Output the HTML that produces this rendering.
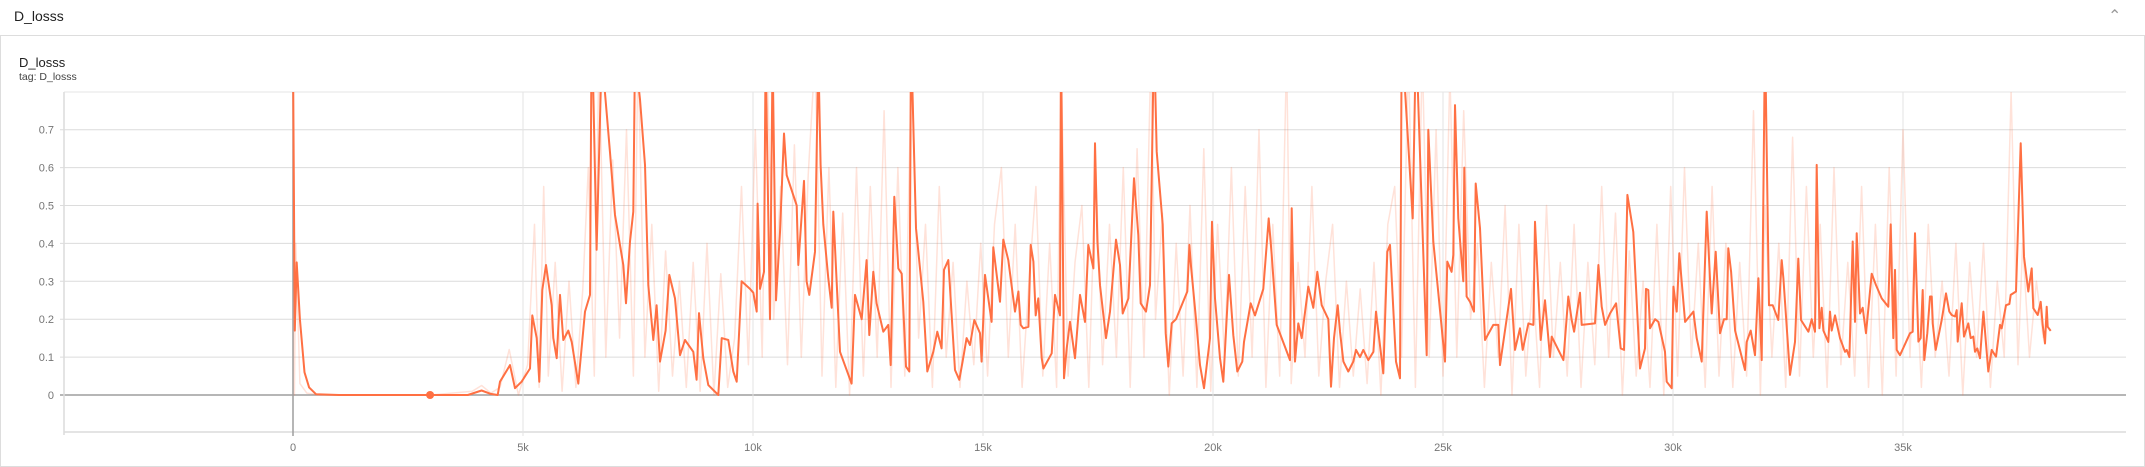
<!DOCTYPE html>
<html><head><meta charset="utf-8"><style>
html,body{margin:0;padding:0;background:#fff;width:2145px;height:454px;overflow:hidden;font-family:"Liberation Sans",sans-serif}
#hdr{position:absolute;left:0;top:0;width:2145px;height:35px;border-bottom:1px solid #ddd}
#hdr .t{position:absolute;left:14px;top:8px;font-size:14px;color:#212121}
#hdr .chev{position:absolute;left:2108px;top:6px;font-size:16px;color:#999}
#card{position:absolute;left:0;top:36px;width:2143px;height:430px;border:1px solid #ddd;border-top:none}
#ct{position:absolute;left:19px;top:55px;font-size:13px;color:#212121}
#tag{position:absolute;left:19px;top:71px;font-size:10.5px;color:#424242}
svg{position:absolute;left:0;top:0}
</style></head><body>
<div id="hdr"><span class="t">D_losss</span><span class="chev">&#8963;</span></div>
<div id="card"></div>
<div id="ct">D_losss</div>
<div id="tag">tag: D_losss</div>
<svg id="chart" width="2145" height="454"></svg>
<script>
const xTicks=[0,5000,10000,15000,20000,25000,30000,35000];
const xTickLabels=["0","5k","10k","15k","20k","25k","30k","35k"];
const yTicks=[0,0.1,0.2,0.3,0.4,0.5,0.6,0.7];
const yTickLabels=["0","0.1","0.2","0.3","0.4","0.5","0.6","0.7"];
const smoothSteps=[0,40,80,150,250,350,500,1000,2000,3000,3800,4000,4100,4300,4450,
4500,4717,4826,4970,5152,5203,5297,5355,5420,5500,5623,5659,5732,5804,5877,5985,6058,6203,6348,6456,6493,6600,6710,6891,7000,7181,7239,7326,7398,7435,7543,7652,7724,7833,7905,7978,8101,8181,8304,8413,8522,8703,8775,8826,8920,9029,9246,9319,9464,9572,9645,9753,9934,10007,10080,10100,10152,10239,10275,10369,10427,10500,10587,10674,10732,10949,10985,11108,11166,11224,11348,11420,11470,11529,11637,11710,11746,11891,12144,12217,12362,12470,12528,12615,12688,12833,12941,12993,13072,13159,13232,13326,13398,13434,13543,13702,13789,13920,14007,14101,14152,14246,14391,14485,14557,14644,14717,14811,14934,14970,15043,15188,15224,15369,
15442,15551,15696,15769,15819,15877,15986,16037,16095,16145,16203,16276,16312,16493,16566,16674,16696,16761,16819,16892,17000,17109,17218,17290,17399,17435,17486,17544,17674,17761,17892,17979,18037,18160,18283,18377,18428,18544,18631,18718,18776,18906,18971,19029,19102,19196,19319,19442,19486,19522,19631,19718,19804,19935,19979,20044,20152,20225,20348,20442,20529,20638,20674,20819,20913,21094,21210,21275,21384,21674,21710,21783,21855,21928,22072,22181,22268,22362,22507,22565,22631,22710,22761,22834,22942,23050,23109,23196,23268,23377,23486,23544,23703,23790,23848,23979,24066,24102,24341,24413,24645,24681,24790,25043,25094,25188,25225,25261,25333,25442,25464,25514,25587,25674,25710,25804,25913,26094,26203,
26240,26479,26566,26675,26733,26856,26965,27000,27051,27124,27218,27327,27363,27617,27725,27798,27849,27979,28015,28305,28378,28450,28523,28631,28762,28863,28935,29008,29138,29283,29392,29414,29464,29500,29610,29682,29827,29863,29972,30008,30080,30138,30262,30443,30515,30624,30733,30841,30928,31022,31109,31167,31203,31262,31349,31566,31602,31689,31783,31856,31928,32000,32088,32167,32290,32363,32399,32544,32653,32725,32783,32943,33015,33088,33124,33182,33232,33269,33377,33414,33450,33522,33631,33740,33776,33834,33906,33957,33993,34066,34124,34196,34319,34413,34536,34681,34733,34790,34826,34862,34935,
35152,35210,35261,35334,35384,35428,35464,35529,35587,35623,35645,35710,35841,35935,36007,36058,36131,36167,36189,36276,36326,36420,36471,36529,36565,36616,36674,36747,36804,36855,36928,37022,37109,37145,37239,37312,37341,37457,37558,37631,37725,37797,37833,37928,37993,38036,38087,38123,38145,38210];
const smoothValues=[0.9,0.17,0.35,0.2,0.06,0.02,0.002,0,0,0,0,0.008,0.012,0.003,0,
0.035,0.079,0.018,0.035,0.07,0.21,0.15,0.035,0.277,0.343,0.237,0.15,0.097,0.264,0.145,0.17,0.14,0.03,0.22,0.264,1.0,0.383,0.9,0.64,0.475,0.343,0.242,0.405,0.484,0.9,0.78,0.607,0.29,0.145,0.237,0.088,0.17,0.317,0.255,0.105,0.145,0.114,0.04,0.216,0.097,0.026,0,0.15,0.145,0.062,0.035,0.3,0.28,0.27,0.22,0.505,0.28,0.325,0.9,0.2,0.9,0.25,0.43,0.69,0.58,0.5,0.343,0.565,0.3,0.264,0.378,0.9,0.607,0.45,0.308,0.23,0.484,0.114,0.03,0.264,0.2,0.356,0.158,0.325,0.242,0.167,0.185,0.079,0.523,0.334,0.32,0.075,0.062,0.95,0.44,0.246,0.062,0.114,0.167,0.123,0.33,0.356,0.066,0.04,0.088,0.15,0.132,0.198,0.163,0.088,0.317,0.193,0.39,0.246,
0.41,0.356,0.22,0.273,0.185,0.176,0.18,0.396,0.352,0.21,0.255,0.097,0.07,0.11,0.264,0.21,0.95,0.044,0.123,0.193,0.097,0.264,0.193,0.396,0.334,0.664,0.405,0.29,0.15,0.22,0.41,0.343,0.215,0.255,0.572,0.422,0.242,0.22,0.29,0.95,0.642,0.45,0.163,0.075,0.189,0.2,0.237,0.273,0.396,0.34,0.2,0.079,0.018,0.15,0.457,0.255,0.097,0.035,0.317,0.158,0.062,0.088,0.14,0.242,0.21,0.28,0.466,0.37,0.185,0.092,0.493,0.088,0.189,0.15,0.286,0.23,0.325,0.237,0.2,0.022,0.15,0.237,0.167,0.088,0.062,0.088,0.119,0.1,0.119,0.092,0.114,0.22,0.057,0.378,0.396,0.088,0.044,0.95,0.466,0.95,0.105,0.7,0.405,0.088,0.352,0.325,0.37,0.765,0.466,0.3,0.6,0.26,0.246,0.22,0.558,0.44,0.145,0.185,0.185,
0.079,0.28,0.119,0.176,0.119,0.189,0.185,0.457,0.33,0.145,0.25,0.1,0.154,0.092,0.26,0.198,0.167,0.27,0.185,0.189,0.343,0.233,0.185,0.215,0.242,0.123,0.119,0.528,0.43,0.07,0.123,0.28,0.277,0.176,0.2,0.193,0.114,0.035,0.018,0.286,0.22,0.374,0.193,0.22,0.15,0.088,0.484,0.215,0.378,0.163,0.2,0.2,0.387,0.325,0.17,0.066,0.14,0.17,0.105,0.308,0.092,0.95,0.237,0.237,0.198,0.356,0.308,0.053,0.14,0.36,0.198,0.167,0.2,0.167,0.607,0.176,0.23,0.17,0.14,0.22,0.17,0.21,0.15,0.114,0.119,0.1,0.405,0.193,0.427,0.215,0.23,0.163,0.32,0.29,0.255,0.233,0.45,0.15,0.33,0.119,0.105,
0.163,0.167,0.427,0.141,0.15,0.277,0.092,0.163,0.26,0.26,0.189,0.119,0.198,0.268,0.22,0.211,0.207,0.224,0.141,0.242,0.154,0.189,0.15,0.154,0.114,0.123,0.097,0.22,0.136,0.062,0.119,0.101,0.185,0.176,0.237,0.24,0.264,0.273,0.664,0.365,0.273,0.334,0.229,0.211,0.246,0.185,0.136,0.233,0.18,0.169];
const rawSteps=[0,30,60,150,300,600,1000,2000,3000,3900,4100,4300,4500,4700,4900,5100,5250,5350,5450,5550,5700,5850,6000,6150,6300,6420,6550,6650,6800,6950,7100,7250,7400,7500,7650,7800,7950,8100,8250,8400,8550,8700,8850,9000,9150,9300,9450,9600,9750,9900,10050,10200,10300,10450,10600,10750,10900,11050,11200,11350,11500,11650,11800,11950,12100,12250,12400,12550,12700,12850,13000,13150,13300,13450,13600,13750,13900,14050,14200,14350,14500,14650,14800,14950,15100,15250,15400,15550,15700,15850,16000,16150,16300,16450,16600,16700,16850,17000,17150,17300,17450,17600,17750,17900,18050,18200,18350,18500,18650,18750,18900,19050,19200,19350,19500,19650,19800,19950,20100,20250,20400,20550,20700,20850,21000,21150,21300,21450,21600,21700,21850,22000,22150,22300,22450,22600,22750,22900,23050,23200,23350,23500,23650,23800,23950,24100,24250,24400,24550,24700,24850,25000,25150,25300,25450,25600,25750,25900,26050,26200,26350,26500,26650,26800,26950,27100,27250,27400,27550,27700,27850,28000,28150,28300,28450,28600,28750,28900,29050,29200,29350,29500,29650,29800,29950,30100,30250,30400,30550,30700,30850,31000,31150,31300,31450,31600,31750,31900,32000,32150,32300,32450,32600,32750,32900,33050,33200,33350,33500,33650,33800,33950,34100,34250,34400,34550,34700,34850,35000,35150,35250,35400,35550,35700,35850,36000,36150,36300,36450,36600,36750,36900,37050,37200,37350,37500,37600,37750,37900,38050,38200];
const rawValues=[0.95,0.0,0.4,0.03,0.005,0,0,0,0,0.01,0.025,0.005,0.02,0.12,0.0,0.08,0.45,0.02,0.55,0.05,0.35,0.01,0.3,0.02,0.28,0.6,0.05,0.9,0.1,0.62,0.15,0.7,0.05,0.9,0.1,0.45,0.01,0.38,0.05,0.3,0.02,0.35,0.01,0.4,0.0,0.32,0.02,0.15,0.55,0.08,0.7,0.1,0.9,0.2,0.55,0.08,0.66,0.1,0.58,0.9,0.05,0.6,0.02,0.48,0.0,0.6,0.05,0.55,0.1,0.75,0.02,0.6,0.05,0.9,0.15,0.45,0.02,0.55,0.1,0.35,0.02,0.3,0.08,0.4,0.05,0.45,0.6,0.1,0.45,0.02,0.3,0.55,0.05,0.4,0.02,0.85,0.05,0.35,0.5,0.02,0.6,0.08,0.45,0.1,0.6,0.02,0.65,0.1,0.9,0.2,0.48,0.0,0.4,0.05,0.5,0.02,0.65,0.01,0.45,0.1,0.6,0.05,0.55,0.1,0.7,0.02,0.45,0.05,0.9,0.03,0.35,0.1,0.55,0.05,0.3,0.45,0.02,0.3,0.05,0.28,0.03,0.35,0.0,0.45,0.55,0.1,0.9,0.02,0.9,0.1,0.7,0.05,0.85,0.1,0.75,0.2,0.4,0.02,0.35,0.1,0.5,0.0,0.45,0.05,0.3,0.02,0.5,0.1,0.35,0.05,0.45,0.02,0.35,0.08,0.55,0.1,0.48,0.0,0.38,0.05,0.3,0.02,0.45,0.0,0.55,0.05,0.6,0.1,0.4,0.02,0.55,0.05,0.4,0.02,0.35,0.05,0.75,0.0,0.5,0.1,0.4,0.02,0.68,0.05,0.55,0.1,0.45,0.02,0.6,0.08,0.35,0.05,0.55,0.02,0.45,0.0,0.6,0.05,0.7,0.1,0.4,0.02,0.45,0.1,0.3,0.05,0.4,0.0,0.35,0.1,0.4,0.02,0.3,0.1,0.8,0.08,0.4,0.1,0.3,0.15];
const markerStep=2980, markerValue=0;

const L=64,R=2126,T=92,B=432;
const X0=293,PX=0.046;
const Y0=395,PY=379;
const xs=s=>X0+s*PX;
const ys=v=>Y0-v*PY;
const NS="http://www.w3.org/2000/svg";
const svg=document.getElementById('chart');
function mk(t,a,p){const e=document.createElementNS(NS,t);for(const k in a)e.setAttribute(k,a[k]);(p||svg).appendChild(e);return e;}
const defs=mk('defs',{});
const cp=mk('clipPath',{id:'clip'},defs);mk('rect',{x:L,y:T,width:R-L,height:B-T},cp);
mk('line',{x1:L,x2:R,y1:T,y2:T,stroke:'#e6e6e6','stroke-width':1});
yTicks.forEach((v,i)=>{
  const y=ys(v);
  const g=mk('line',{x1:L-4,x2:R,y1:y,y2:y,stroke:v===0?'#9e9e9e':'#dcdcdc','stroke-width':v===0?1.5:1});
  
  
  const t=mk('text',{x:L-10,y:y+4,'text-anchor':'end','font-size':11,fill:'#757575','font-family':'Liberation Sans, sans-serif'});
  t.textContent=yTickLabels[i];
  
  
});
mk('line',{x1:L,x2:R,y1:B,y2:B,stroke:'#dcdcdc','stroke-width':1.5});
mk('line',{x1:L,x2:L,y1:T,y2:B+3,stroke:'#dcdcdc','stroke-width':1.5});
xTicks.forEach((s,i)=>{
  const x=xs(s);
  const g=mk('line',{x1:x,x2:x,y1:T,y2:B+4,stroke:s===0?'#9e9e9e':'#e3e3e3','stroke-width':s===0?1.5:1});
  
  
  const t=mk('text',{x:x,y:451,'text-anchor':'middle','font-size':11,fill:'#757575','font-family':'Liberation Sans, sans-serif'});
  t.textContent=xTickLabels[i];
  
  
});
const gp=mk('g',{'clip-path':'url(#clip)'});
const rp=mk('path',{d:rawSteps.map((s,i)=>(i?'L':'M')+xs(s).toFixed(1)+','+ys(rawValues[i]).toFixed(1)).join(''),fill:'none',stroke:'#ff7043','stroke-opacity':0.2,'stroke-width':1.5,'stroke-linejoin':'round'},gp);


const sp=mk('path',{d:smoothSteps.map((s,i)=>(i?'L':'M')+xs(s).toFixed(1)+','+ys(smoothValues[i]).toFixed(1)).join(''),fill:'none',stroke:'#ff7043','stroke-width':2,'stroke-linejoin':'round'},gp);


const dot=mk('circle',{cx:xs(markerStep),cy:ys(markerValue),r:4,fill:'#ff7043'});


</script>
</body></html>
